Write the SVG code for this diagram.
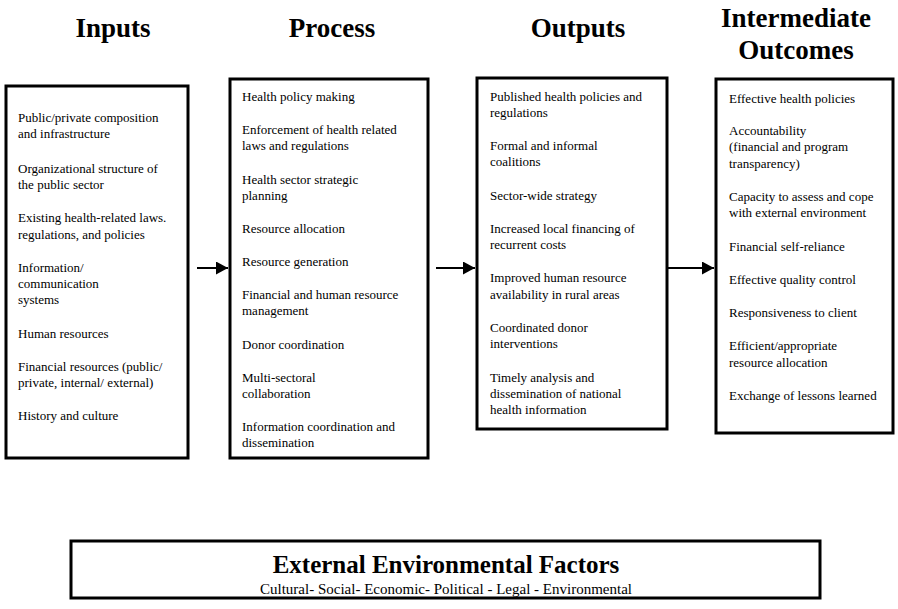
<svg xmlns="http://www.w3.org/2000/svg" width="898" height="609" viewBox="0 0 898 609">
  <style>
    .box { fill: #ffffff; stroke: #000000; stroke-width: 3; }
    .head { font-family: "Liberation Serif", "Times New Roman", serif; font-weight: bold; font-size: 27px; fill: #000; text-anchor: middle; }
    .item { font-family: "Liberation Serif", "Times New Roman", serif; font-size: 13px; fill: #000; }
    .ftitle { font-family: "Liberation Serif", "Times New Roman", serif; font-weight: bold; font-size: 25px; fill: #000; text-anchor: middle; }
    .fsub { font-family: "Liberation Serif", "Times New Roman", serif; font-size: 15px; fill: #000; text-anchor: middle; }
    .conn { stroke: #000; stroke-width: 2; fill: none; }
  </style>
  <defs>
    <marker id="arrow" markerUnits="userSpaceOnUse" markerWidth="13" markerHeight="13" refX="12" refY="6.5" orient="auto">
      <path d="M0,0 L12,6.5 L0,13 Z" fill="#000"/>
    </marker>
  </defs>
  <rect width="898" height="609" fill="#ffffff"/>

  <!-- column headings -->
  <g id="headings">
    <text class="head" x="113" y="37">Inputs</text>
    <text class="head" x="332" y="37">Process</text>
    <text class="head" x="578" y="37">Outputs</text>
    <text class="head" x="796" y="27">Intermediate</text>
    <text class="head" x="796" y="59">Outcomes</text>
  </g>

  <g id="inputs">
    <rect class="box" x="6" y="86" width="182" height="372"/>
    <text class="item" x="18">
      <tspan x="18" y="122">Public/private composition</tspan>
      <tspan x="18" y="138">and infrastructure</tspan>
      <tspan x="18" y="173">Organizational structure of</tspan>
      <tspan x="18" y="189">the public sector</tspan>
      <tspan x="18" y="222">Existing health-related laws.</tspan>
      <tspan x="18" y="239">regulations, and policies</tspan>
      <tspan x="18" y="272">Information/</tspan>
      <tspan x="18" y="288">communication</tspan>
      <tspan x="18" y="304">systems</tspan>
      <tspan x="18" y="338">Human resources</tspan>
      <tspan x="18" y="371">Financial resources (public/</tspan>
      <tspan x="18" y="387">private, internal/ external)</tspan>
      <tspan x="18" y="420">History and culture</tspan>
    </text>
  </g>

  <g id="process">
    <rect class="box" x="230" y="79" width="198" height="379"/>
    <text class="item">
      <tspan x="242" y="101">Health policy making</tspan>
      <tspan x="242" y="134">Enforcement of health related</tspan>
      <tspan x="242" y="150">laws and regulations</tspan>
      <tspan x="242" y="184">Health sector strategic</tspan>
      <tspan x="242" y="200">planning</tspan>
      <tspan x="242" y="233">Resource allocation</tspan>
      <tspan x="242" y="266">Resource generation</tspan>
      <tspan x="242" y="299">Financial and human resource</tspan>
      <tspan x="242" y="315">management</tspan>
      <tspan x="242" y="349">Donor coordination</tspan>
      <tspan x="242" y="382">Multi-sectoral</tspan>
      <tspan x="242" y="398">collaboration</tspan>
      <tspan x="242" y="431">Information coordination and</tspan>
      <tspan x="242" y="447">dissemination</tspan>
    </text>
  </g>

  <g id="outputs">
    <rect class="box" x="477" y="78" width="190" height="351"/>
    <text class="item">
      <tspan x="490" y="101">Published health policies and</tspan>
      <tspan x="490" y="117">regulations</tspan>
      <tspan x="490" y="150">Formal and informal</tspan>
      <tspan x="490" y="166">coalitions</tspan>
      <tspan x="490" y="200">Sector-wide strategy</tspan>
      <tspan x="490" y="233">Increased local financing of</tspan>
      <tspan x="490" y="249">recurrent costs</tspan>
      <tspan x="490" y="282">Improved human resource</tspan>
      <tspan x="490" y="299">availability in rural areas</tspan>
      <tspan x="490" y="332">Coordinated donor</tspan>
      <tspan x="490" y="348">interventions</tspan>
      <tspan x="490" y="382">Timely analysis and</tspan>
      <tspan x="490" y="398">dissemination of national</tspan>
      <tspan x="490" y="414">health information</tspan>
    </text>
  </g>

  <g id="intermediate-outcomes">
    <rect class="box" x="716" y="79" width="177" height="354"/>
    <text class="item">
      <tspan x="729" y="103">Effective health policies</tspan>
      <tspan x="729" y="135">Accountability</tspan>
      <tspan x="729" y="151">(financial and program</tspan>
      <tspan x="729" y="168">transparency)</tspan>
      <tspan x="729" y="201">Capacity to assess and cope</tspan>
      <tspan x="729" y="217">with external environment</tspan>
      <tspan x="729" y="251">Financial self-reliance</tspan>
      <tspan x="729" y="284">Effective quality control</tspan>
      <tspan x="729" y="317">Responsiveness to client</tspan>
      <tspan x="729" y="350">Efficient/appropriate</tspan>
      <tspan x="729" y="367">resource allocation</tspan>
      <tspan x="729" y="400">Exchange of lessons learned</tspan>
    </text>
  </g>

  <g id="external-factors">
    <rect class="box" x="71" y="541" width="749" height="57"/>
    <text class="ftitle" x="446" y="573">External Environmental Factors</text>
    <text class="fsub" x="446" y="594">Cultural- Social- Economic- Political - Legal - Environmental</text>
  </g>

  <g id="connectors">
    <line class="conn" x1="197" y1="268" x2="228" y2="268" marker-end="url(#arrow)"/>
    <line class="conn" x1="436" y1="268" x2="475" y2="268" marker-end="url(#arrow)"/>
    <line class="conn" x1="667" y1="268" x2="714" y2="268" marker-end="url(#arrow)"/>
  </g>
</svg>
